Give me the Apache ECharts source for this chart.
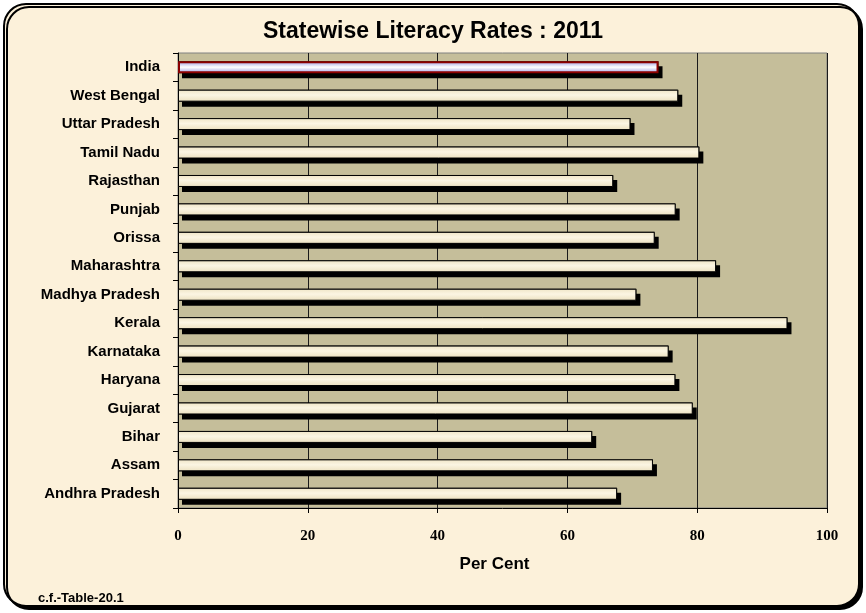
<!DOCTYPE html>
<html>
<head>
<meta charset="utf-8">
<script src="https://cdn.jsdelivr.net/npm/echarts@6/dist/echarts.min.js"></script>
<style>
  html, body { margin: 0; padding: 0; background: #fff; }
  #main { width: 866px; height: 613px; }
</style>
</head>
<body>
<div id="main"></div>
<script>
// categories bottom -> top (echarts draws the first category at the bottom)
var states = ['Andhra Pradesh', 'Assam', 'Bihar', 'Gujarat', 'Haryana', 'Karnataka', 'Kerala',
  'Madhya Pradesh', 'Maharashtra', 'Orissa', 'Punjab', 'Rajasthan', 'Tamil Nadu',
  'Uttar Pradesh', 'West Bengal', 'India'];
var literacy = [67.66, 73.18, 63.82, 79.31, 76.64, 75.60, 93.91,
  70.63, 82.91, 73.45, 76.68, 67.06, 80.33,
  69.72, 77.08, 74.04];
var xTicks = [0, 20, 40, 60, 80, 100];

var chart = echarts.init(document.getElementById('main'));

var creamFill = new echarts.graphic.LinearGradient(0, 0, 0, 1, [
  { offset: 0, color: '#EFE5C6' },
  { offset: 0.45, color: '#FBF5E3' },
  { offset: 1, color: '#ECE1C0' }
]);
var indiaFill = new echarts.graphic.LinearGradient(0, 0, 0, 1, [
  { offset: 0, color: '#9C9CE4' },
  { offset: 0.5, color: '#FFFFFF' },
  { offset: 1, color: '#9C9CE4' }
]);

var barData = literacy.map(function (v, i) {
  if (states[i] === 'India') {
    return { value: v, itemStyle: { color: indiaFill, borderColor: '#8B0000', borderWidth: 2 } };
  }
  return v;
});

var option = {
  animation: false,
  graphic: [
    {
      type: 'rect',
      z: -10,
      silent: true,
      shape: { x: 4, y: 4, width: 855, height: 602, r: 22 },
      style: {
        fill: '#FCF1DA',
        stroke: '#000',
        lineWidth: 2,
        shadowColor: '#000',
        shadowOffsetX: 3,
        shadowOffsetY: 3,
        shadowBlur: 0
      }
    }
  ],
  title: [
    {
      text: 'Statewise Literacy Rates : 2011',
      left: 'center',
      top: 15,
      textStyle: { fontFamily: 'Liberation Sans', fontWeight: 'bold', fontSize: 23, color: '#000' }
    },
    {
      text: 'c.f.-Table-20.1',
      left: 33,
      top: 587,
      textStyle: { fontFamily: 'Liberation Sans', fontWeight: 'bold', fontSize: 13, color: '#000' }
    }
  ],
  grid: {
    left: 178,
    right: 39,
    top: 53,
    bottom: 105,
    show: true,
    backgroundColor: '#C5BE9A',
    borderColor: '#808080',
    borderWidth: 1
  },
  xAxis: {
    type: 'value',
    min: xTicks[0],
    max: xTicks[xTicks.length - 1],
    interval: 20,
    name: 'Per Cent',
    nameLocation: 'middle',
    nameGap: 48,
    nameTextStyle: {
      fontFamily: 'Liberation Sans',
      fontWeight: 'bold',
      fontSize: 17,
      color: '#000',
      padding: [0, 16, 0, 0]
    },
    axisLine: { show: true, lineStyle: { color: '#000', width: 1 } },
    axisTick: { show: true, length: 5, lineStyle: { color: '#000' } },
    axisLabel: {
      margin: 21,
      fontFamily: 'Liberation Serif',
      fontWeight: 'bold',
      fontSize: 15,
      color: '#000'
    },
    splitLine: { show: true, lineStyle: { color: '#1a1a1a', width: 1 } }
  },
  yAxis: {
    type: 'category',
    data: states,
    axisLine: { show: true, lineStyle: { color: '#000', width: 1 } },
    axisTick: { show: true, length: 5, lineStyle: { color: '#000' } },
    axisLabel: {
      margin: 18,
      fontFamily: 'Liberation Sans',
      fontWeight: 'bold',
      fontSize: 15,
      color: '#000'
    },
    splitLine: { show: false }
  },
  series: [
    {
      // black drop shadow behind each bar
      type: 'bar',
      data: literacy,
      barWidth: 12,
      silent: true,
      itemStyle: {
        color: '#000',
        shadowColor: '#000',
        shadowOffsetX: 4,
        shadowOffsetY: 5,
        shadowBlur: 0
      }
    },
    {
      type: 'bar',
      data: barData,
      barWidth: 12,
      barGap: '-100%',
      itemStyle: {
        color: creamFill,
        borderColor: '#000',
        borderWidth: 1
      }
    }
  ]
};

chart.setOption(option);
</script>
</body>
</html>
